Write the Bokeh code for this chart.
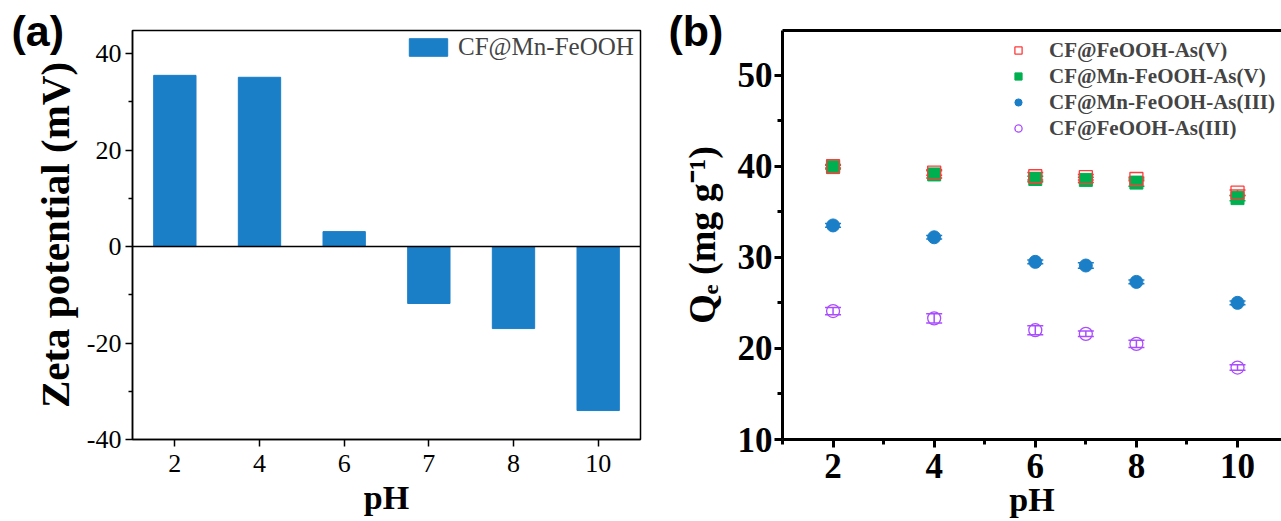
from bokeh.plotting import figure
from bokeh.models import (FactorRange, Range1d, FixedTicker, Legend, LegendItem,
                          LinearAxis, Span, Whisker, TeeHead, ColumnDataSource,
                          CustomJSTickFormatter)
from bokeh.layouts import row
from bokeh.embed import file_html
from bokeh.resources import INLINE

# ---------------- data ----------------
ph_a = ["2", "4", "6", "7", "8", "10"]
zeta = [35.5, 35.1, 3.1, -11.8, -17.0, -34.0]

ph_b = [2, 4, 6, 7, 8, 10]
feooh_as5 = [40.0, 39.3, 38.9, 38.8, 38.6, 37.1]
feooh_as5_err = [0.2, 0.3, 0.4, 0.3, 0.2, 0.3]
mn_as5 = [39.9, 39.1, 38.6, 38.5, 38.2, 36.5]
mn_as5_err = [0.2, 0.4, 0.3, 0.3, 0.4, 0.3]
mn_as3 = [33.5, 32.2, 29.5, 29.1, 27.3, 25.0]
mn_as3_err = [0.2, 0.2, 0.2, 0.3, 0.2, 0.2]
feooh_as3 = [24.1, 23.3, 22.0, 21.6, 20.5, 17.9]
feooh_as3_err = [0.4, 0.5, 0.5, 0.3, 0.4, 0.3]

SERIF = "Liberation Serif"
SANS = "Liberation Sans"
plain_fmt = CustomJSTickFormatter(code="return String(Math.round(tick));")


def panel_title(p, text, offset):
    p.title.text = text
    p.title.align = "left"
    p.title.vertical_align = "bottom"
    p.title.offset = offset
    p.title.standoff = -48
    p.title.text_font = SANS
    p.title.text_font_style = "bold"
    p.title.text_font_size = "43px"
    p.title.text_color = "black"


# ---------------- panel (a) ----------------
pa = figure(width=650, height=521, output_backend="svg", toolbar_location=None,
            x_range=FactorRange(factors=ph_a), y_range=Range1d(-40, 44.8),
            min_border_left=132, min_border_right=10, min_border_top=30, min_border_bottom=81)
pa.grid.visible = False
pa.outline_line_color = "black"
pa.outline_line_width = 1.5
panel_title(pa, "(a)", -121)

bars = pa.vbar(x=ph_a, top=zeta, bottom=0, width=0.5, fill_color="#1b7fc8",
               line_color="#1b7fc8")
pa.add_layout(Span(location=0, dimension="width", line_color="black", line_width=1.5))

xa = pa.below[0]
ya = pa.left[0]
ya.ticker = FixedTicker(ticks=[-40, -20, 0, 20, 40], minor_ticks=[-30, -10, 10, 30])
ya.formatter = plain_fmt
for ax in (xa, ya):
    ax.axis_line_width = 1.5
    ax.major_tick_line_width = 1.5
    ax.minor_tick_line_width = 1.5
    ax.major_tick_in = 0
    ax.major_tick_out = 7
    ax.minor_tick_in = 0
    ax.minor_tick_out = 4
    ax.major_label_text_font = SERIF
    ax.major_label_text_font_size = "26px"
    ax.major_label_text_color = "black"
    ax.axis_label_text_font = SERIF
    ax.axis_label_text_font_style = "bold"
    ax.axis_label_text_color = "black"
xa.axis_label = "pH"
xa.axis_label_text_font_size = "34px"
ya.axis_label = "Zeta potential (mV)"
ya.axis_label_text_font_size = "41px"
xa.major_label_standoff = 8
ya.major_label_standoff = 4
xa.axis_label_standoff = 4
ya.axis_label_standoff = 6

leg_a = Legend(items=[LegendItem(label="CF@Mn-FeOOH", renderers=[bars])],
               location=(272, 378), glyph_width=48, glyph_height=22, label_height=22,
               label_standoff=6, padding=0, margin=0, border_line_color=None,
               background_fill_alpha=0, label_text_font=SERIF, label_text_font_size="25px")
pa.add_layout(leg_a)

# ---------------- panel (b) ----------------
pb = figure(width=631, height=521, output_backend="svg", toolbar_location=None,
            x_range=Range1d(1, 10.87), y_range=Range1d(10, 54.9),
            min_border_left=132, min_border_right=0, min_border_top=30, min_border_bottom=82)
pb.grid.visible = False
pb.outline_line_color = None
panel_title(pb, "(b)", -114)

xb = pb.below[0]
yb = pb.left[0]
xb.ticker = FixedTicker(ticks=[2, 4, 6, 8, 10], minor_ticks=[1, 3, 5, 7, 9])
yb.ticker = FixedTicker(ticks=[10, 20, 30, 40, 50], minor_ticks=[15, 25, 35, 45])
xb.formatter = plain_fmt
yb.formatter = plain_fmt
for ax in (xb, yb):
    ax.axis_line_width = 3
    ax.major_tick_line_width = 3
    ax.minor_tick_line_width = 3
    ax.major_tick_in = 0
    ax.major_tick_out = 8
    ax.minor_tick_in = 0
    ax.minor_tick_out = 5
    ax.major_label_text_font = SERIF
    ax.major_label_text_font_style = "bold"
    ax.major_label_text_font_size = "35px"
    ax.major_label_text_color = "black"
    ax.axis_label_text_font = SERIF
    ax.axis_label_text_font_style = "bold"
    ax.axis_label_text_color = "black"
xb.axis_label = "pH"
xb.axis_label_text_font_size = "34px"
yb.axis_label = "Qₑ (mg g⁻¹)"
yb.axis_label_text_font_size = "38px"
xb.major_label_standoff = 6
yb.major_label_standoff = 2
xb.axis_label_standoff = 0
yb.axis_label_standoff = 12

top_ax = LinearAxis(axis_line_width=3, major_tick_in=0, major_tick_out=0,
                    minor_tick_in=0, minor_tick_out=0, major_label_text_font_size="0px",
                    ticker=FixedTicker(ticks=[], minor_ticks=[]))
pb.add_layout(top_ax, "above")

series = [
    ("CF@Mn-FeOOH-As(V)", mn_as5, mn_as5_err, "square", "#00b050", "#00b050"),
    ("CF@FeOOH-As(V)", feooh_as5, feooh_as5_err, "square", None, "#ff3b3b"),
    ("CF@Mn-FeOOH-As(III)", mn_as3, mn_as3_err, "circle", "#1b7fc8", "#1b7fc8"),
    ("CF@FeOOH-As(III)", feooh_as3, feooh_as3_err, "circle", None, "#a94dff"),
]
rend = {}
for name, vals, errs, mk, fill, line in series:
    src = ColumnDataSource(dict(x=ph_b, y=vals,
                                lo=[v - e for v, e in zip(vals, errs)],
                                hi=[v + e for v, e in zip(vals, errs)]))
    pb.add_layout(Whisker(source=src, base="x", lower="lo", upper="hi",
                          line_color=line, line_width=1.5,
                          upper_head=TeeHead(size=16, line_color=line, line_width=1.5),
                          lower_head=TeeHead(size=16, line_color=line, line_width=1.5)))
    if fill is None:
        r = pb.scatter("x", "y", source=src, marker=mk, size=13, fill_color=None,
                       line_color=line, line_width=1.3)
    else:
        r = pb.scatter("x", "y", source=src, marker=mk, size=13, fill_color=fill,
                       line_color=line, line_width=1)
    rend[name] = r

order = ["CF@FeOOH-As(V)", "CF@Mn-FeOOH-As(V)", "CF@Mn-FeOOH-As(III)", "CF@FeOOH-As(III)"]
leg_b = Legend(items=[LegendItem(label=n, renderers=[rend[n]]) for n in order],
               location=(227, 298), glyph_width=18, glyph_height=18, label_height=26,
               label_standoff=22, spacing=0, padding=0, margin=0, border_line_color=None,
               background_fill_alpha=0, label_text_font=SERIF, label_text_font_style="bold",
               label_text_font_size="21px")
pb.add_layout(leg_b)

layout = row(pa, pb)
open("out.html", "w").write(file_html(layout, INLINE))
